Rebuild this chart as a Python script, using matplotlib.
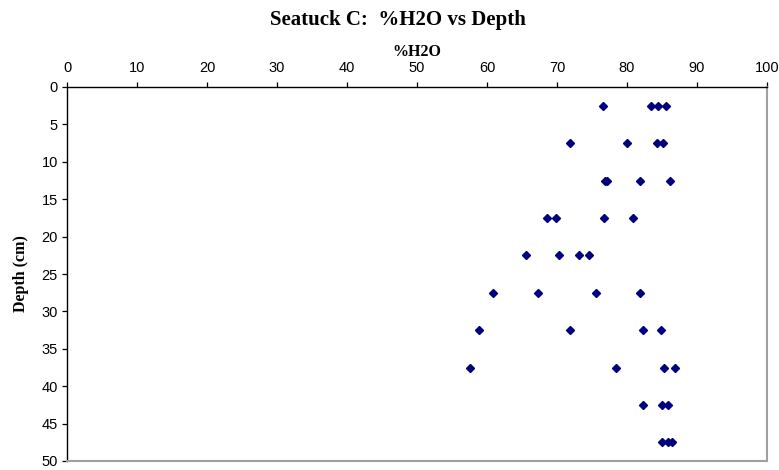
import matplotlib
matplotlib.use("Agg")
import matplotlib.pyplot as plt

# depth (cm) of each core section, and %H2O replicate readings
DEPTHS = [2.5, 7.5, 12.5, 17.5, 22.5, 27.5, 32.5, 37.5, 42.5, 47.5]
H2O = [
    [76.5, 83.4, 84.4, 85.6],
    [71.9, 80.0, 84.3, 85.2],
    [76.8, 77.1, 81.9, 86.2],
    [68.6, 69.8, 76.7, 80.9],
    [65.5, 70.3, 73.1, 74.5],
    [60.9, 67.3, 75.5, 81.8],
    [58.8, 71.8, 82.3, 84.8],
    [57.6, 78.4, 85.3, 86.8],
    [82.3, 85.0, 85.9],
    [85.0, 85.9, 86.4],
]
X_TICKS = list(range(0, 101, 10))
Y_TICKS = list(range(0, 51, 5))

xs, ys = [], []
for d, vals in zip(DEPTHS, H2O):
    for v in vals:
        xs.append(v)
        ys.append(d)

SERIF = ["Liberation Serif", "DejaVu Serif"]
SANS = ["Liberation Sans", "DejaVu Sans"]

fig = plt.figure(figsize=(7.79, 4.70), dpi=100)
ax = fig.add_axes([67 / 779, 1 - 461 / 470, 700 / 779, 374 / 470])

ax.plot(xs, ys, linestyle="none", marker="D", markersize=3.8,
        color="#000080", markeredgecolor="#000080")

ax.set_xlim(0, 100)
ax.set_ylim(50, 0)
ax.set_xticks(X_TICKS)
ax.set_yticks(Y_TICKS)
ax.xaxis.tick_top()
ax.xaxis.set_label_position("top")
ax.tick_params(axis="both", direction="out", length=3.6, width=0.9,
               labelsize=10.5, colors="black", pad=3)
ax.tick_params(axis="x", pad=5)
for lab in ax.get_xticklabels() + ax.get_yticklabels():
    lab.set_family(SANS)

for side in ("top", "left"):
    ax.spines[side].set_color("black")
    ax.spines[side].set_linewidth(1.0)
for side in ("right", "bottom"):
    ax.spines[side].set_color("#a0a0a0")
    ax.spines[side].set_linewidth(1.5)

ax.set_xlabel("%H2O", fontsize=11.5, fontweight="bold", family=SERIF, labelpad=4)
ax.set_ylabel("Depth (cm)", fontsize=11.5, fontweight="bold", family=SERIF, labelpad=9)

fig.text(398 / 779, 1 - 20 / 470, "Seatuck C:  %H2O vs Depth", ha="center", va="center",
         fontsize=15, fontweight="bold", family=SERIF)

fig.savefig("out.png", dpi=100)
plt.close(fig)
